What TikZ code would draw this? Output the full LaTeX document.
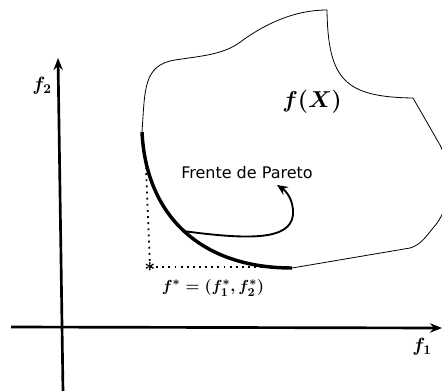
\documentclass[tikz,border=0pt]{standalone}
\usepackage{amsmath}
\usepackage{amssymb}
\usepackage{bm}
\usepackage{fontspec}
\newfontfamily\labelfont{DejaVu Sans}
\usepackage{tikz}
\usetikzlibrary{arrows.meta,positioning,calc}

\begin{document}
\begin{tikzpicture}[x=0.75pt,y=-0.75pt,
    axis/.style={line width=2pt, -{Stealth[length=9pt,width=7pt]}},
    region/.style={line width=0.6pt},
    front/.style={line width=2.6pt},
    guide/.style={line width=1.3pt, dash pattern=on 1.4pt off 3.2pt},
    pointer/.style={line width=1.4pt, -{Stealth[length=8pt,width=7pt]}},
    mathlbl/.style={inner sep=1pt, font=\Large\boldmath}]
\useasboundingbox (0,0) rectangle (442,390);

% axes
\coordinate (yb) at (63,392);
\coordinate (yt) at (58,58);
\coordinate (xl) at (11,327);
\coordinate (xr) at (442,328);
\draw[axis] (yb) -- (yt);
\draw[axis] (xl) -- (xr);
\node[mathlbl] (f2) at (42,86) {$f_2$};
\node[mathlbl] (f1) at (422,347) {$f_1$};

% image set f(X)
\coordinate (ftop) at (142,132);
\coordinate (fbot) at (292,268);
\draw[region] (ftop) .. controls (145,90) and (143,65) .. (175,60)
    .. controls (200,56) and (225,55) .. (243,40)
    .. controls (260,28) and (290,10) .. (327,10)
    .. controls (328,80) and (345,97) .. (413,98)
    -- (440,145) .. controls (455,175) and (450,210) .. (433,228)
    .. controls (425,238) and (420,245) .. (410,248) -- (fbot);
\node[mathlbl, font=\LARGE\boldmath] (fX) at (312,102) {$f(X)$};

% Pareto front
\draw[front] (ftop) .. controls (146,215) and (200,268) .. (fbot)
    coordinate[pos=0.5] (fmid);

% ideal point
\node[inner sep=0pt, font=\Large\boldmath] (ideal) at (150,267) {$\ast$};
\coordinate (gtop) at (146,168);
\coordinate (gend) at (290,267);
\draw[guide] (ideal.center) -- (gtop);
\draw[guide] (ideal.center) -- (gend);
\node[mathlbl, font=\fontsize{13}{15}\selectfont\boldmath] (idlbl) at (213,288) {$f^{*}=(f_1^{*},f_2^{*})$};

% label with pointer
\node[font=\labelfont\fontsize{12}{14}\selectfont] (pareto) at (247,173) {Frente de Pareto};
\draw[pointer] (fmid) .. controls (250,240) and (290,240) .. (293,215)
    .. controls (294,200) and (286,191) .. (277,185);
\end{tikzpicture}
\end{document}
